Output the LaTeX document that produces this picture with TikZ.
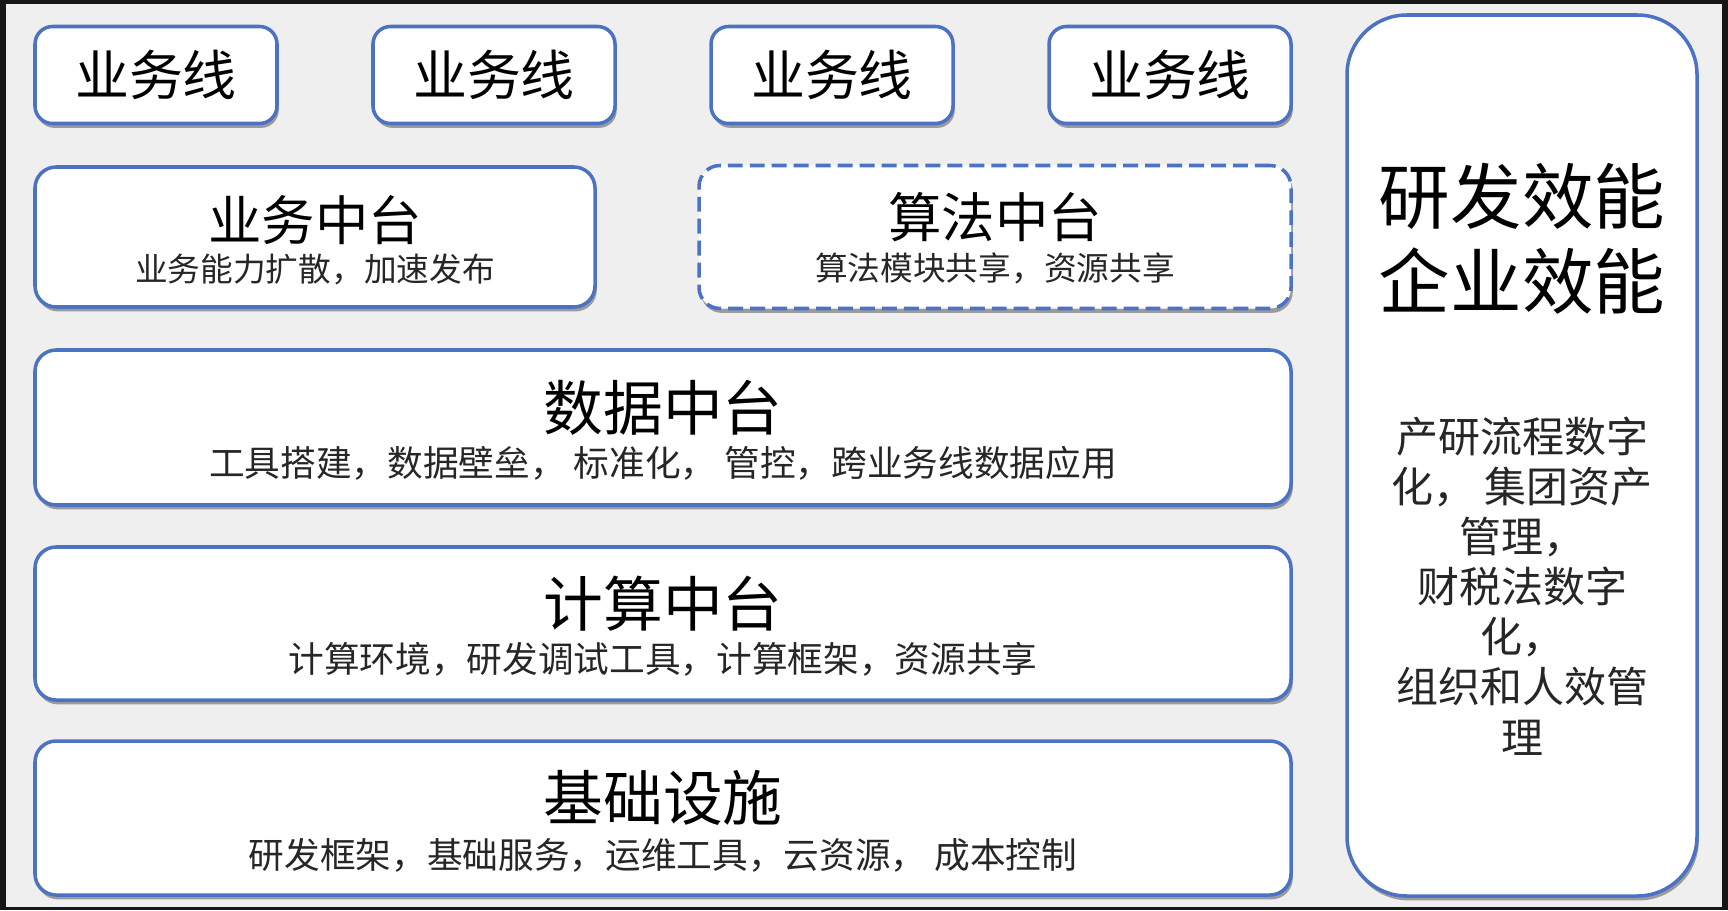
\documentclass[tikz,border=0pt]{standalone}
\usepackage{fontspec}
\setmainfont{Noto Sans CJK SC}
\usetikzlibrary{shadows}
\definecolor{frameblack}{RGB}{22,22,22}
\definecolor{canvasgray}{RGB}{239,239,239}
\definecolor{boxblue}{RGB}{76,114,196}

\begin{document}
\begin{tikzpicture}[
        box/.style={rectangle, draw=boxblue, line width=2pt, fill=white, rounded corners=12pt,
            drop shadow={shadow xshift=1pt, shadow yshift=-2.5pt, opacity=0.35, fill=black}},
        linebox/.style={box, rounded corners=10pt, minimum width=4.84cm, minimum height=1.94cm,
            font=\fontsize{30.7}{36}\selectfont},
        layer/.style={box, minimum width=25.12cm},
        title/.style={font=\fontsize{34}{40}\selectfont, inner sep=0pt},
        smalltitle/.style={font=\fontsize{30.4}{36}\selectfont, inner sep=0pt},
        subtitle/.style={font=\fontsize{20.3}{24}\selectfont, text=black!85, inner sep=0pt},
        smallsub/.style={font=\fontsize{18.6}{22}\selectfont, text=black!85, inner sep=0pt}
    ]

    % Frame
    \fill[frameblack] (0, 0) rectangle (34.56, 18.2);
    \fill[canvasgray] (0.12, 0.06) rectangle (34.44, 18.12);

    % Business lines
    \foreach \i/\x in {1/3.12, 2/9.88, 3/16.64, 4/23.4}
        \node[linebox] (line\i) at (\x, 16.7) {业务线};

    % Middle platforms
    \node[box, minimum width=11.2cm, minimum height=2.8cm] (biz) at (6.3, 13.46) {};
    \node[smalltitle] (bizT) at (6.3, 13.8) {业务中台};
    \node[smallsub] (bizS) at (6.3, 12.82) {业务能力扩散，加速发布};

    \node[box, dash pattern=on 8.5pt off 4pt, minimum width=11.84cm, minimum height=2.86cm] (algo) at (19.9, 13.46) {};
    \node[smalltitle] (algoT) at (19.9, 13.86) {算法中台};
    \node[smallsub] (algoS) at (19.9, 12.84) {算法模块共享，资源共享};

    % Layers
    \node[layer, minimum height=3.1cm] (data) at (13.26, 9.65) {};
    \node[title] (dataT) at (13.26, 10.04) {数据中台};
    \node[subtitle] (dataS) at (13.26, 8.94) {工具搭建，数据壁垒， 标准化， 管控，跨业务线数据应用};

    \node[layer, minimum height=3.06cm] (comp) at (13.26, 5.73) {};
    \node[title] (compT) at (13.26, 6.12) {计算中台};
    \node[subtitle] (compS) at (13.26, 5.02) {计算环境，研发调试工具，计算框架，资源共享};

    \node[layer, minimum height=3.08cm] (infra) at (13.26, 1.84) {};
    \node[title] (infraT) at (13.26, 2.24) {基础设施};
    \node[subtitle] (infraS) at (13.26, 1.1) {研发框架，基础服务，运维工具，云资源， 成本控制};

    % Efficiency column
    \node[box, rounded corners=34pt, minimum width=7.0cm, minimum height=17.62cm] (eff) at (30.44, 9.09) {};
    \node[align=center, inner sep=0pt, font=\fontsize{40.7}{48.4}\selectfont] (effT) at (30.44, 13.43) {研发效能\\企业效能};
    \node[align=center, inner sep=0pt, font=\fontsize{23.9}{28.5}\selectfont, text=black!85] (effS) at (30.44, 6.48)
        {产研流程数字\\化， 集团资产\\管理，\\财税法数字\\化，\\组织和人效管\\理};

    \end{tikzpicture}
\end{document}
